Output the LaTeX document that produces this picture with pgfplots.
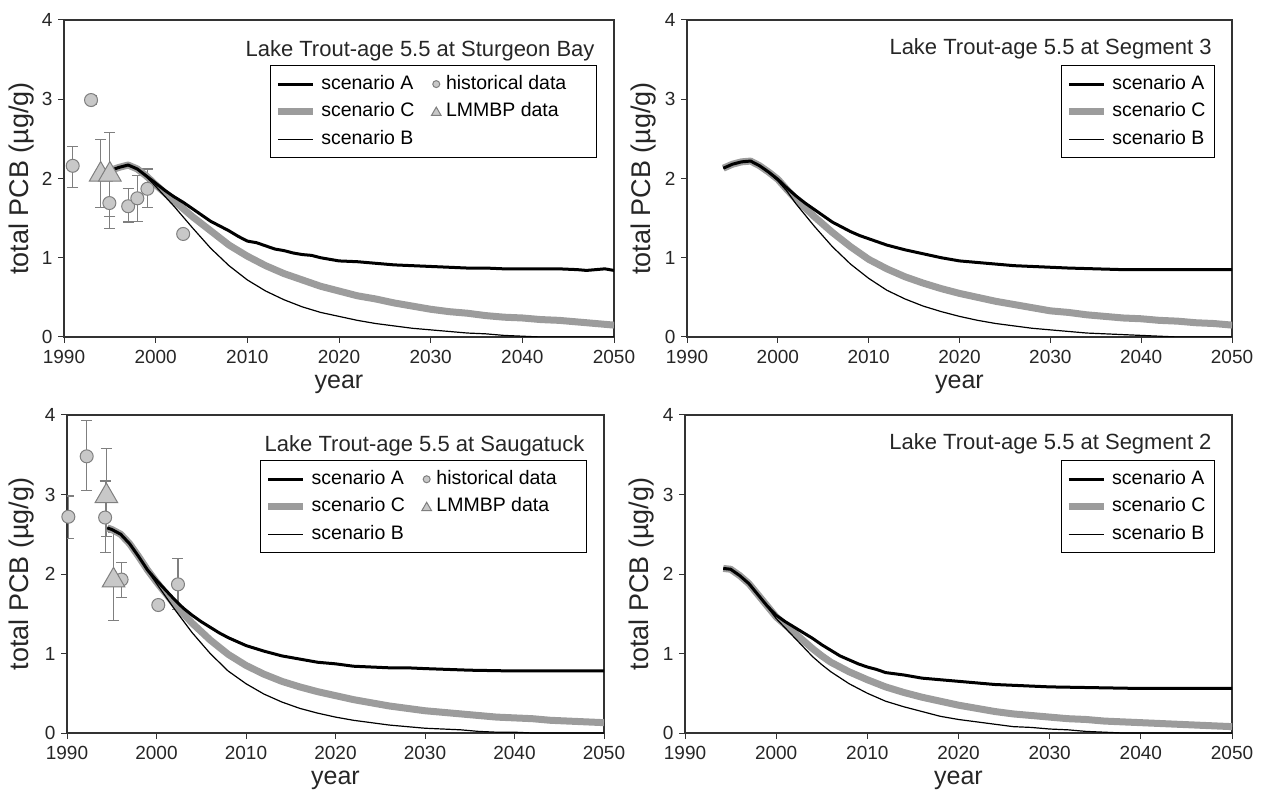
\documentclass[border=0pt]{standalone}
\usepackage{fontspec}
\setmainfont{Liberation Sans}
\usepackage{pgfplots}
\pgfplotsset{compat=1.18}
\definecolor{cgray}{HTML}{9C9C9C}
\definecolor{mfill}{HTML}{C8C8C8}
\definecolor{medge}{HTML}{7F7F7F}
\newcommand{\tickfont}{\fontsize{19}{22}\selectfont}
\newcommand{\legfont}{\fontsize{19.5}{22}\selectfont}
\newcommand{\titfont}{\fontsize{22}{26}\selectfont}
\newcommand{\ylfont}{\fontsize{27}{30}\selectfont}
\newcommand{\xlfont}{\fontsize{25}{30}\selectfont}
\pgfplotsset{
  panel/.style={scale only axis, xmin=1990, xmax=2050, ymin=0, ymax=4,
    xtick={1990,2000,...,2050}, ytick={0,1,2,3,4},
    tick align=outside, xtick pos=left, ytick pos=left,
    major tick length=6pt,
    tick style={black!80, line width=1pt},
    axis line style={black!80, line width=1.3pt},
    ticklabel style={font=\tickfont, text=black!85},
    xticklabel style={yshift=-4pt},
    yticklabel style={xshift=-2pt},
    /pgf/number format/assume math mode=true,
    /pgf/number format/1000 sep={},
    xlabel={year}, ylabel={total PCB (µg/g)},
    xlabel style={font=\xlfont, text=black!85},
    ylabel style={font=\ylfont, text=black!85},
    legend cell align=left,
    legend style={draw=black, line width=1.2pt, fill=white, font=\legfont,
      inner xsep=4pt, inner ysep=7.5pt,
      nodes={inner xsep=5pt, inner ysep=2pt, text height=14pt, text depth=4pt},
      row sep=5.5pt},
    legend image code/.code={\draw[##1] (0pt,0pt) -- (35pt,0pt);},
  },
  scA/.style={black, line width=3pt, line join=round, no marks},
  scC/.style={cgray, line width=7pt, line join=round, no marks},
  scB/.style={black, line width=1.2pt, line join=round, no marks},
  ebars/.style={error bars/y dir=both, error bars/y explicit,
    error bars/error bar style={medge, line width=1.2pt},
    error bars/error mark options={medge, line width=1.2pt, mark size=5.5pt, rotate=90}},
  hist/.style={only marks, mark=*, mark size=6.5pt,
    mark options={fill=mfill, draw=medge, line width=1pt}, ebars},
  tri/.style={only marks, mark=triangle*, mark size=13pt,
    mark options={fill=mfill, draw=medge, line width=1pt}, ebars},
  histleg/.style={only marks, mark=*, mark size=3.5pt,
    mark options={fill=mfill, draw=medge, line width=1pt},
    legend image code/.code={\draw[##1] plot coordinates {(4pt,0pt)};}},
  trileg/.style={only marks, mark=triangle*, mark size=5.5pt,
    mark options={fill=mfill, draw=medge, line width=1pt},
    legend image code/.code={\draw[##1] plot coordinates {(4pt,-1pt)};}},
}
\begin{document}
\begin{tikzpicture}
\path[use as bounding box] (0,0) rectangle (1265pt,798pt);

% ---------------- Top left: Sturgeon Bay
\begin{axis}[panel, at={(64pt,461pt)}, anchor=south west, width=550pt, height=317pt,
  ylabel style={at={(axis description cs:-0.0764,0.5)}, anchor=center},
  xlabel style={at={(axis description cs:0.5,-0.148)}, anchor=center},
  legend columns=2,
  legend style={at={(axis description cs:0.969,0.858)}, anchor=north east,
    /tikz/every even column/.append style={column sep=12pt}}]
\addplot[forget plot, hist] coordinates {
 (1990.95,2.16) += (0,0.24) -= (0,0.27)
 (1992.95,2.99) += (0,0.05) -= (0,0.05)
 (1994.95,1.69) += (0,0.31) -= (0,0.32)
 (1997.0,1.65) += (0,0.22) -= (0,0.20)
 (1998.0,1.75) += (0,0.29) -= (0,0.29)
 (1999.1,1.87) += (0,0.25) -= (0,0.24)
 (2003.0,1.30) += (0,0) -= (0,0)
};
\addplot[forget plot, tri] coordinates {
 (1994.0,2.05) += (0,0.44) -= (0,0.42)
 (1995.0,2.05) += (0,0.53) -= (0,0.53)
};
\addplot[scC, forget plot] coordinates {
 (1994,2.07) (1995,2.10) (1996,2.14) (1997,2.17) (1998,2.12) (1999,2.03) (2000,1.92)
 (2002,1.72) (2004,1.52) (2006,1.34) (2008,1.16) (2010,1.02) (2012,0.90) (2014,0.80)
 (2016,0.72) (2018,0.64) (2020,0.58) (2022,0.52) (2024,0.48) (2026,0.43) (2028,0.39)
 (2030,0.35) (2032,0.32) (2034,0.30) (2036,0.27) (2038,0.25) (2040,0.24) (2042,0.22)
 (2044,0.21) (2046,0.19) (2048,0.17) (2050,0.15)
};
\addplot[scB, forget plot] coordinates {
 (1994,2.07) (1995,2.10) (1996,2.14) (1997,2.17) (1998,2.12) (1999,2.02) (2000,1.90)
 (2002,1.65) (2004,1.38) (2006,1.12) (2008,0.90) (2010,0.72) (2012,0.58) (2014,0.47)
 (2016,0.38) (2018,0.31) (2020,0.26) (2022,0.21) (2024,0.17) (2026,0.14) (2028,0.11)
 (2030,0.09) (2032,0.07) (2034,0.05) (2036,0.04) (2038,0.02) (2040,0.01) (2042,0.0)
 (2050,0.0)
};
\addplot[scA, forget plot] coordinates {
 (1994,2.07) (1995,2.10) (1996,2.14) (1997,2.17) (1998,2.12) (1999,2.03) (2000,1.94)
 (2001,1.85) (2002,1.77) (2003,1.70) (2004,1.62) (2005,1.54) (2006,1.46) (2007,1.40)
 (2008,1.34) (2009,1.27) (2010,1.21) (2011,1.19) (2012,1.15) (2013,1.11) (2014,1.09)
 (2015,1.06) (2016,1.04) (2017,1.03) (2018,1.00) (2019,0.98) (2020,0.96) (2022,0.95)
 (2024,0.93) (2026,0.91) (2028,0.90) (2030,0.89) (2032,0.88) (2034,0.87) (2036,0.87)
 (2038,0.86) (2040,0.86) (2042,0.86) (2044,0.86) (2046,0.85) (2047,0.84) (2048,0.85)
 (2049,0.86) (2050,0.84)
};
\addlegendimage{scA}\addlegendentry{scenario A}
\addlegendimage{histleg}\addlegendentry{historical data\hspace*{21pt}}
\addlegendimage{scC}\addlegendentry{scenario C}
\addlegendimage{trileg}\addlegendentry{LMMBP data}
\addlegendimage{scB}\addlegendentry{scenario B}
\node[anchor=base east, font=\titfont, text=black!85] at (axis description cs:0.971,0.886) {Lake Trout-age 5.5 at Sturgeon Bay};
\end{axis}

% ---------------- Top right: Segment 3
\begin{axis}[panel, at={(687pt,461pt)}, anchor=south west, width=545pt, height=317pt,
  ylabel style={at={(axis description cs:-0.0807,0.5)}, anchor=center},
  xlabel style={at={(axis description cs:0.5,-0.148)}, anchor=center},
  legend style={at={(axis description cs:0.969,0.858)}, anchor=north east}]
\addplot[scC, forget plot] coordinates {
 (1994,2.13) (1995,2.18) (1996,2.21) (1997,2.22) (1998,2.16) (1999,2.08) (2000,1.99)
 (2001,1.86) (2002,1.74) (2004,1.52) (2006,1.32) (2008,1.14) (2010,0.98) (2012,0.86)
 (2014,0.76) (2016,0.68) (2018,0.61) (2020,0.55) (2022,0.50) (2024,0.45) (2026,0.41)
 (2028,0.37) (2030,0.33) (2032,0.31) (2034,0.28) (2036,0.26) (2038,0.24) (2040,0.23)
 (2042,0.21) (2044,0.20) (2046,0.18) (2048,0.17) (2050,0.15)
};
\addplot[scB, forget plot] coordinates {
 (1994,2.13) (1995,2.18) (1996,2.21) (1997,2.22) (1998,2.16) (1999,2.07) (2000,1.97)
 (2001,1.84) (2002,1.68) (2004,1.40) (2006,1.14) (2008,0.92) (2010,0.74) (2012,0.59)
 (2014,0.48) (2016,0.39) (2018,0.32) (2020,0.26) (2022,0.21) (2024,0.17) (2026,0.14)
 (2028,0.11) (2030,0.09) (2032,0.07) (2034,0.05) (2036,0.04) (2038,0.03) (2040,0.02)
 (2042,0.01) (2044,0.0) (2050,0.0)
};
\addplot[scA, forget plot] coordinates {
 (1994,2.13) (1995,2.18) (1996,2.21) (1997,2.22) (1998,2.16) (1999,2.08) (2000,1.99)
 (2001,1.88) (2002,1.78) (2003,1.69) (2004,1.61) (2005,1.53) (2006,1.45) (2007,1.39)
 (2008,1.33) (2009,1.28) (2010,1.24) (2012,1.16) (2014,1.10) (2016,1.05) (2018,1.00)
 (2020,0.96) (2022,0.94) (2024,0.92) (2026,0.90) (2028,0.89) (2030,0.88) (2032,0.87)
 (2035,0.86) (2038,0.85) (2040,0.85) (2045,0.85) (2050,0.85)
};
\addlegendimage{scA}\addlegendentry{scenario A}
\addlegendimage{scC}\addlegendentry{scenario C}
\addlegendimage{scB}\addlegendentry{scenario B}
\node[anchor=base east, font=\titfont, text=black!85] at (axis description cs:0.969,0.89) {Lake Trout-age 5.5 at Segment 3};
\end{axis}

% ---------------- Bottom left: Saugatuck
\begin{axis}[panel, at={(67pt,65pt)}, anchor=south west, width=537pt, height=318pt,
  ylabel style={at={(axis description cs:-0.0838,0.5)}, anchor=center},
  xlabel style={at={(axis description cs:0.5,-0.148)}, anchor=center},
  legend columns=2,
  legend style={at={(axis description cs:0.969,0.858)}, anchor=north east,
    /tikz/every even column/.append style={column sep=12pt}}]
\addplot[forget plot, hist] coordinates {
 (1990.15,2.72) += (0,0.26) -= (0,0.27)
 (1992.2,3.48) += (0,0.45) -= (0,0.43)
 (1994.26,2.71) += (0,0.46) -= (0,0.44)
 (1996.1,1.93) += (0,0.21) -= (0,0.23)
 (2000.2,1.61) += (0,0.06) -= (0,0.06)
 (2002.4,1.87) += (0,0.32) -= (0,0.32)
};
\addplot[forget plot, tri] coordinates {
 (1994.4,2.98) += (0,0.60) -= (0,0.51)
 (1995.2,1.92) += (0,0.60) -= (0,0.50)
};
\addplot[scC, forget plot] coordinates {
 (1994.5,2.58) (1995,2.56) (1996,2.50) (1997,2.38) (1998,2.22) (1999,2.05) (2000,1.90)
 (2001,1.76) (2002,1.62) (2004,1.38) (2006,1.17) (2008,0.99) (2010,0.85) (2012,0.74)
 (2014,0.65) (2016,0.58) (2018,0.52) (2020,0.47) (2022,0.42) (2024,0.38) (2026,0.34)
 (2028,0.31) (2030,0.28) (2032,0.26) (2034,0.24) (2036,0.22) (2038,0.20) (2040,0.19)
 (2042,0.18) (2044,0.16) (2046,0.15) (2048,0.14) (2050,0.13)
};
\addplot[scB, forget plot] coordinates {
 (1994.5,2.58) (1995,2.56) (1996,2.50) (1997,2.38) (1998,2.22) (1999,2.04) (2000,1.88)
 (2001,1.72) (2002,1.56) (2004,1.26) (2006,1.00) (2008,0.78) (2010,0.62) (2012,0.49)
 (2014,0.39) (2016,0.31) (2018,0.25) (2020,0.20) (2022,0.16) (2024,0.13) (2026,0.10)
 (2028,0.08) (2030,0.06) (2032,0.05) (2034,0.04) (2036,0.02) (2038,0.01) (2040,0.01)
 (2042,0.0) (2050,0.0)
};
\addplot[scA, forget plot] coordinates {
 (1994.5,2.58) (1995,2.56) (1996,2.50) (1997,2.38) (1998,2.22) (1999,2.05) (2000,1.92)
 (2001,1.80) (2002,1.68) (2003,1.57) (2004,1.48) (2005,1.40) (2006,1.33) (2007,1.26)
 (2008,1.20) (2009,1.15) (2010,1.10) (2012,1.03) (2014,0.97) (2016,0.93) (2018,0.89)
 (2020,0.87) (2022,0.84) (2024,0.83) (2026,0.82) (2028,0.82) (2030,0.81) (2035,0.79)
 (2040,0.78) (2045,0.78) (2050,0.78)
};
\addlegendimage{scA}\addlegendentry{scenario A}
\addlegendimage{histleg}\addlegendentry{historical data\hspace*{21pt}}
\addlegendimage{scC}\addlegendentry{scenario C}
\addlegendimage{trileg}\addlegendentry{LMMBP data}
\addlegendimage{scB}\addlegendentry{scenario B}
\node[anchor=base east, font=\titfont, text=black!85] at (axis description cs:0.970,0.886) {Lake Trout-age 5.5 at Saugatuck};
\end{axis}

% ---------------- Bottom right: Segment 2
\begin{axis}[panel, at={(685pt,65pt)}, anchor=south west, width=547pt, height=318pt,
  ylabel style={at={(axis description cs:-0.0804,0.5)}, anchor=center},
  xlabel style={at={(axis description cs:0.5,-0.148)}, anchor=center},
  legend style={at={(axis description cs:0.969,0.858)}, anchor=north east}]
\addplot[scC, forget plot] coordinates {
 (1994.2,2.07) (1995,2.06) (1996,1.98) (1997,1.88) (1998,1.74) (1999,1.60) (2000,1.46)
 (2001,1.36) (2002,1.26) (2003,1.16) (2004,1.06) (2005,0.97) (2006,0.89) (2008,0.77)
 (2010,0.67) (2012,0.58) (2014,0.51) (2016,0.45) (2018,0.40) (2020,0.35) (2022,0.31)
 (2024,0.27) (2026,0.24) (2028,0.22) (2030,0.20) (2032,0.18) (2034,0.17) (2036,0.15)
 (2038,0.14) (2040,0.13) (2042,0.12) (2044,0.11) (2046,0.10) (2048,0.09) (2050,0.08)
};
\addplot[scB, forget plot] coordinates {
 (1994.2,2.07) (1995,2.06) (1996,1.98) (1997,1.88) (1998,1.74) (1999,1.59) (2000,1.44)
 (2001,1.32) (2002,1.20) (2003,1.08) (2004,0.96) (2005,0.86) (2006,0.77) (2008,0.62)
 (2010,0.50) (2012,0.40) (2014,0.33) (2016,0.27) (2018,0.21) (2020,0.17) (2022,0.14)
 (2024,0.11) (2026,0.08) (2028,0.07) (2030,0.05) (2032,0.04) (2034,0.02) (2036,0.01)
 (2038,0.0) (2050,0.0)
};
\addplot[scA, forget plot] coordinates {
 (1994.2,2.07) (1995,2.06) (1996,1.98) (1997,1.88) (1998,1.74) (1999,1.60) (2000,1.48)
 (2001,1.40) (2002,1.33) (2003,1.26) (2004,1.19) (2005,1.11) (2006,1.04) (2007,0.97)
 (2008,0.92) (2009,0.87) (2010,0.83) (2011,0.80) (2012,0.76) (2014,0.73) (2016,0.69)
 (2018,0.67) (2020,0.65) (2022,0.63) (2024,0.61) (2026,0.60) (2028,0.59) (2030,0.58)
 (2035,0.57) (2040,0.56) (2045,0.56) (2050,0.56)
};
\addlegendimage{scA}\addlegendentry{scenario A}
\addlegendimage{scC}\addlegendentry{scenario C}
\addlegendimage{scB}\addlegendentry{scenario B}
\node[anchor=base east, font=\titfont, text=black!85] at (axis description cs:0.969,0.89) {Lake Trout-age 5.5 at Segment 2};
\end{axis}
\end{tikzpicture}
\end{document}
